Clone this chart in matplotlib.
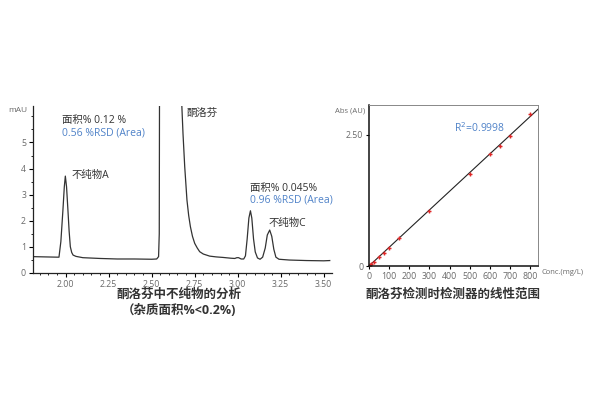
import matplotlib
matplotlib.use('Agg')
import matplotlib.pyplot as plt
import numpy as np
from matplotlib.ticker import MultipleLocator

plt.rcParams['font.family'] = ['Open Sans', 'Noto Sans CJK SC', 'DejaVu Sans']

# chromatogram trace (time [min], mAU)
rt = [1.81, 1.88, 1.95, 1.961, 1.972, 1.984, 1.992, 1.998, 2.005, 2.013, 2.020,
      2.027, 2.035, 2.043, 2.060, 2.100, 2.200, 2.300, 2.400, 2.500, 2.529,
      2.540, 2.544, 2.546, 2.670, 2.674, 2.682, 2.692, 2.705, 2.715, 2.725,
      2.737, 2.750, 2.765, 2.779, 2.800, 2.837, 2.875, 2.914, 2.960, 2.983,
      2.995, 3.005, 3.020, 3.035, 3.045, 3.055, 3.065, 3.074, 3.082, 3.092,
      3.102, 3.115, 3.130, 3.145, 3.160, 3.172, 3.186, 3.198, 3.210, 3.222,
      3.240, 3.300, 3.400, 3.500, 3.535]
mau = [0.62, 0.61, 0.60, 0.60, 1.20, 2.41, 3.30, 3.71, 3.30, 2.41, 1.60,
       1.00, 0.78, 0.68, 0.63, 0.58, 0.55, 0.53, 0.53, 0.52, 0.53,
       0.62, 1.50, 9.00, 9.00, 6.60, 5.34, 4.07, 2.79, 2.20, 1.77,
       1.40, 1.13, 0.95, 0.81, 0.72, 0.64, 0.61, 0.59, 0.56, 0.55,
       0.58, 0.58, 0.53, 0.53, 0.65, 1.30, 2.10, 2.38, 2.10, 1.30,
       0.80, 0.57, 0.52, 0.60, 0.95, 1.45, 1.64, 1.40, 0.90, 0.60,
       0.52, 0.49, 0.47, 0.46, 0.47]
x_ticks = [2.00, 2.25, 2.50, 2.75, 3.00, 3.25, 3.50]

# linearity points (mg/L, AU)
conc = [0, 5, 10, 25, 50, 75, 100, 150, 300, 500, 600, 650, 700, 800]
absorb = [0.0, 0.02, 0.04, 0.082, 0.166, 0.254, 0.344, 0.54, 1.055, 1.756,
          2.137, 2.29, 2.487, 2.90]
r2_text = 'R$^2$=0.9998'

dark = '#333333'
grey = '#6a6a6a'
blue = '#4f82c8'

fig = plt.figure(figsize=(6, 4), dpi=100)

############ chromatogram ############
ax = fig.add_axes([0.055, 0.318, 0.498, 0.417])
ax.plot(rt, mau, color=dark, lw=0.9)
ax.set_xlim(1.81, 3.547)
ax.set_ylim(0, 6.4)
ax.set_xticks(x_ticks)
ax.set_xticklabels(['%.2f' % v for v in x_ticks])
ax.xaxis.set_minor_locator(MultipleLocator(0.05))
ax.set_yticks(range(6))
ax.yaxis.set_minor_locator(MultipleLocator(0.5))
for s in ['top', 'right']:
    ax.spines[s].set_visible(False)
for s in ['left', 'bottom']:
    ax.spines[s].set_linewidth(0.9)
    ax.spines[s].set_color('#222222')
ax.tick_params(which='major', direction='out', length=3, width=0.8,
               labelsize=6.3, labelcolor=grey, pad=2)
ax.tick_params(which='minor', direction='out', length=1.5, width=0.6)
fig.text(0.013, 0.725, 'mAU', fontsize=6, color=grey, va='center')

ax.text(1.98, 5.83, '面积% 0.12 %', fontsize=7.5, color=dark, va='center')
ax.text(1.98, 5.37, '0.56 %RSD (Area)', fontsize=7.5, color=blue, va='center')
ax.text(2.035, 3.73, '不纯物A', fontsize=7.5, color=dark, va='center')
ax.text(2.70, 6.1, '酮洛芬', fontsize=7.5, color=dark, va='center')
ax.text(3.07, 3.25, '面积% 0.045%', fontsize=7.5, color=dark, va='center')
ax.text(3.07, 2.78, '0.96 %RSD (Area)', fontsize=7.5, color=blue, va='center')
ax.text(3.182, 1.9, '不纯物C', fontsize=7.5, color=dark, va='center')

fig.text(0.298, 0.265, '酮洛芬中不纯物的分析', fontsize=9, fontweight='bold',
         color=dark, ha='center', va='center')
fig.text(0.298, 0.223, '（杂质面积%<0.2%)', fontsize=9, fontweight='bold',
         color=dark, ha='center', va='center')

############ linearity ############
bx = fig.add_axes([0.615, 0.335, 0.282, 0.4025])
c = np.array(conc, dtype=float)
a = np.array(absorb, dtype=float)
slope = np.sum(c * a) / np.sum(c * c)
line_x = np.array([0, 840])
bx.plot(line_x, slope * line_x, color='#222222', lw=0.8)
bx.plot(conc, absorb, ls='none', marker='+', ms=3.5, mew=1.0, color='#e02828')
bx.set_xlim(0, 840)
bx.set_ylim(0, 3.07)
bx.set_xticks(range(0, 801, 100))
bx.set_yticks([0, 2.5])
bx.set_yticklabels(['0', '2.50'])
bx.get_yticklabels()[1].set_color('#f0605a')
bx.get_yticklabels()[1].set_fontsize(7.5)
for s in ['left', 'bottom']:
    bx.spines[s].set_linewidth(1.1)
    bx.spines[s].set_color('#111111')
for s in ['top', 'right']:
    bx.spines[s].set_linewidth(0.7)
    bx.spines[s].set_color('#888888')
bx.tick_params(direction='out', length=2.5, width=0.8, labelsize=6.3,
               labelcolor=grey, pad=1.5)
bx.text(422, 2.63, r2_text, fontsize=7.5, color=blue, va='center')
fig.text(0.608, 0.722, 'Abs (AU)', fontsize=5.5, color=grey, ha='right', va='center')
fig.text(0.902, 0.318, 'Conc.(mg/L)', fontsize=5.5, color=grey, ha='left', va='center')

fig.text(0.755, 0.265, '酮洛芬检测时检测器的线性范围', fontsize=9, fontweight='bold',
         color=dark, ha='center', va='center')

fig.savefig('out.png', dpi=100, facecolor='white')
